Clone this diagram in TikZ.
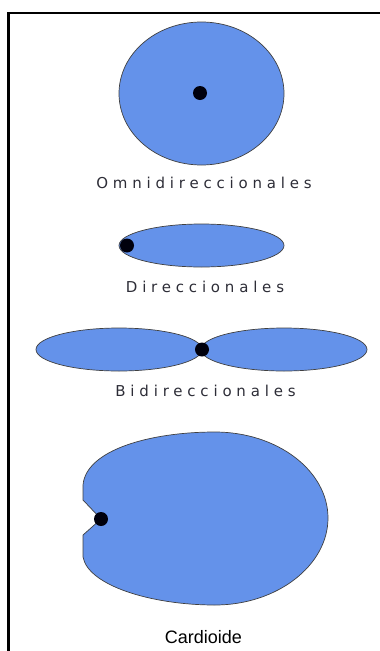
\documentclass[tikz,border=0pt]{standalone}
\usepackage{fontspec}
\newfontfamily\spacedfont[LetterSpace=32]{DejaVu Sans}
\newfontfamily\arialfont{Liberation Sans}
\definecolor{lobeblue}{RGB}{100,146,234}
\definecolor{labelgray}{RGB}{45,45,55}

\begin{document}
\begin{tikzpicture}[x=1pt,y=-1pt,
  lobe/.style={fill=lobeblue,draw=black!75,line width=0.7pt},
  dotmark/.style={fill=black!95!blue},
  tracked/.style={anchor=base,text=labelgray,font=\spacedfont\fontsize{15}{18}\selectfont},
  arialtext/.style={anchor=base,font=\arialfont\fontsize{18}{21}\selectfont}]
\useasboundingbox (0,0) rectangle (380,651);
% Frame
\draw[line width=2.5pt] (380,13) -- (8.7,13) -- (8.7,651);

% Omnidireccionales
\draw[lobe] (201.5,93.5) ellipse [x radius=82.5, y radius=71.5];
\fill[dotmark] (200,93) circle (7);
\node[tracked] (omni) at (204,188) {Omnidireccionales};

% Direccionales
\draw[lobe] (201.5,245.5) ellipse [x radius=82.5, y radius=21.5];
\fill[dotmark] (127,245.5) circle (7);
\node[tracked] (dir) at (205,292) {Direccionales};

% Bidireccionales
\draw[lobe] (119,349.5) ellipse [x radius=83, y radius=21.5];
\draw[lobe] (284,349.5) ellipse [x radius=83, y radius=21.5];
\fill[dotmark] (202,349.5) circle (7);
\node[tracked] (bidir) at (205.5,396) {Bidireccionales};

% Cardioide
\draw[lobe] (83,500) -- (83,485)
  .. controls (86,450) and (150,432) .. (215,432)
  .. controls (277,432) and (328,470.5) .. (328,518)
  .. controls (328,565.5) and (277,605) .. (215,605)
  .. controls (150,605) and (88,585) .. (83,557)
  -- (83,535) -- (101,519) -- cycle;
\fill[dotmark] (101,519) circle (7);
\node[arialtext] (cardio) at (203.5,643) {Cardioide};
\end{tikzpicture}
\end{document}
